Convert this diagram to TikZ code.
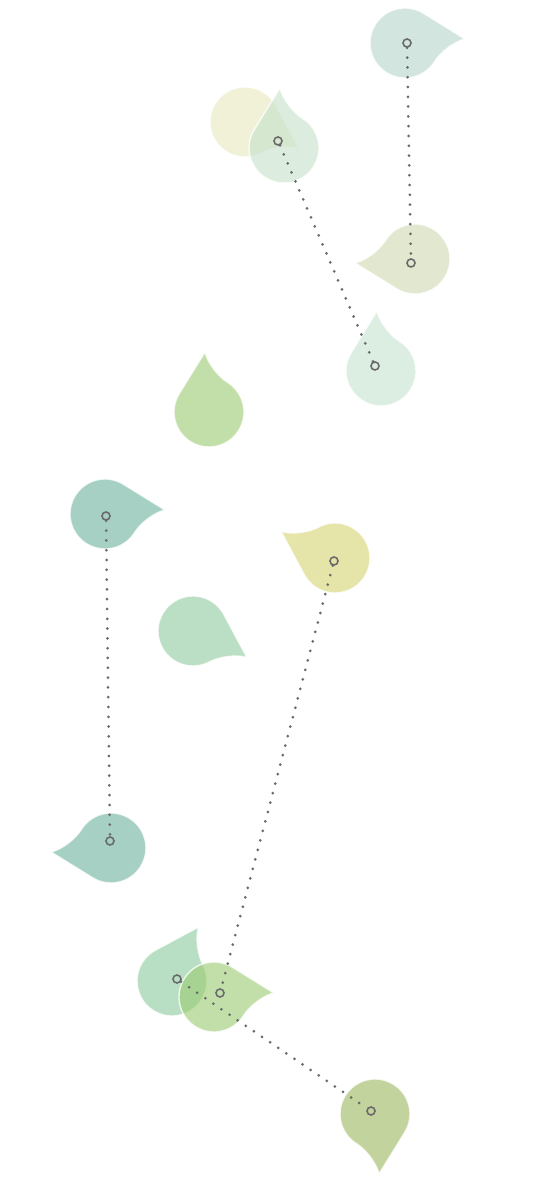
\documentclass[tikz,border=0pt]{standalone}
\begin{document}
\begin{tikzpicture}[x=1pt,y=1pt]
\definecolor{markgray}{HTML}{6A6A6A}
\definecolor{cA}{HTML}{B6D5CB}
\definecolor{cB}{HTML}{E6E9BB}
\definecolor{cC}{HTML}{C5E1CB}
\definecolor{cD}{HTML}{CDD9AF}
\definecolor{cE}{HTML}{C6E3CF}
\definecolor{cF}{HTML}{9BCB70}
\definecolor{cG}{HTML}{69B19B}
\definecolor{cH}{HTML}{D5D571}
\definecolor{cI}{HTML}{8ECB9D}
\definecolor{cJ}{HTML}{8ACA9B}
\definecolor{cK}{HTML}{9BB75D}
\tikzset{
  droplet/.style={fill=#1, fill opacity=0.6, draw=white, draw opacity=0.8, line width=1.4pt},
  marker/.style={circle, draw=markgray, line width=1.6pt, minimum size=8pt, inner sep=0pt},
  dotline/.style={draw=markgray, line width=3pt, line cap=round, dash pattern=on 0pt off 9.8pt}
}
\newcommand\dropat[4]{%
  \path[droplet=#4, shift={(#1,1177-#2)}, rotate=#3]
    (60,4) -- (18.55,29.68) arc[start angle=58, end angle=328, radius=35pt]
    .. controls (35,-10) and (48,1) .. cycle;}
\fill[white] (0,0) rectangle (539,1177);
\useasboundingbox (0,0) rectangle (539,1177);
% drops
\dropat{245}{122}{-30}{cB}
\dropat{284}{148}{90}{cC}
\dropat{405}{43}{0}{cA}
\dropat{415}{259}{180}{cD}
\dropat{381}{371}{90}{cE}
\dropat{209}{412}{90}{cF}
\dropat{105}{514}{0}{cG}
\dropat{335}{558}{150}{cH}
\dropat{193}{631}{-30}{cI}
\dropat{111}{848}{180}{cG}
\dropat{172}{981}{60}{cJ}
\dropat{214}{997}{0}{cF}
\dropat{375}{1114}{-90}{cK}
% markers
\node[marker] (m1) at (407,1177-43) {};
\node[marker] (m2) at (411,1177-263) {};
\node[marker] (m3) at (278,1177-141) {};
\node[marker] (m4) at (375,1177-366) {};
\node[marker] (m5) at (106,1177-516) {};
\node[marker] (m6) at (110,1177-841) {};
\node[marker] (m7) at (334,1177-561) {};
\node[marker] (m8) at (220,1177-993) {};
\node[marker] (m9) at (177,1177-979) {};
\node[marker] (m10) at (371,1177-1111) {};
% connectors
\draw[dotline] (m1) -- (m2);
\draw[dotline] (m3) -- (m4);
\draw[dotline] (m5) -- (m6);
\draw[dotline] (m7) -- (m8);
\draw[dotline] (m9) -- (m10);
\end{tikzpicture}
\end{document}
